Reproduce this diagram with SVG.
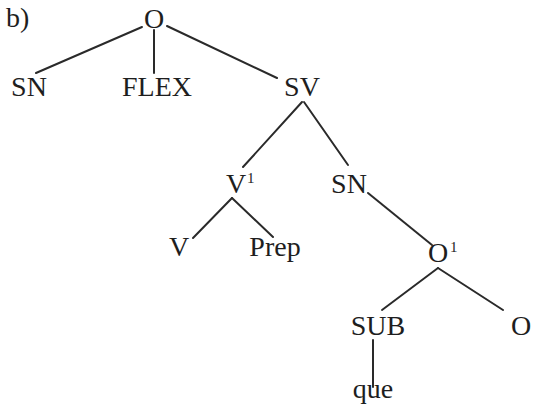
<svg xmlns="http://www.w3.org/2000/svg" width="542" height="415" viewBox="0 0 542 415">
<style>
text{font-family:"Liberation Serif","Times New Roman",serif;font-size:28px;fill:#1e1e1e;text-anchor:middle}
.sup{font-size:15px;text-anchor:start}
#edges line{stroke:#2a2a2a;stroke-width:2;stroke-linecap:round}
</style>
<rect width="542" height="415" fill="#ffffff"/>
<text x="6" y="27" style="text-anchor:start">b)</text>
<g id="edges">
<line x1="142" y1="27" x2="36" y2="73"/>
<line x1="154" y1="30" x2="154" y2="73"/>
<line x1="167" y1="26" x2="277" y2="78"/>
<line x1="302" y1="102" x2="243" y2="167"/>
<line x1="304" y1="102" x2="348" y2="165"/>
<line x1="232" y1="198" x2="193" y2="238"/>
<line x1="232" y1="198" x2="273" y2="237"/>
<line x1="368" y1="193" x2="432" y2="245"/>
<line x1="438" y1="268" x2="382" y2="310"/>
<line x1="438" y1="268" x2="503" y2="310"/>
<line x1="373" y1="340" x2="373" y2="387"/>
</g>
<g id="n-O"><text x="154" y="28">O</text></g>
<g id="n-SN"><text x="29" y="96">SN</text></g>
<g id="n-FLEX"><text x="157" y="96">FLEX</text></g>
<g id="n-SV"><text x="302" y="96">SV</text></g>
<g id="n-V1"><text x="236" y="193">V</text><text class="sup" x="247" y="183">1</text></g>
<g id="n-SN2"><text x="349" y="193">SN</text></g>
<g id="n-V"><text x="179" y="256">V</text></g>
<g id="n-Prep"><text x="275" y="256">Prep</text></g>
<g id="n-O1"><text x="438" y="262">O</text><text class="sup" x="450" y="252">1</text></g>
<g id="n-SUB"><text x="378" y="335">SUB</text></g>
<g id="n-O2"><text x="521" y="335">O</text></g>
<g id="n-que"><text x="373" y="398">que</text></g>
</svg>
